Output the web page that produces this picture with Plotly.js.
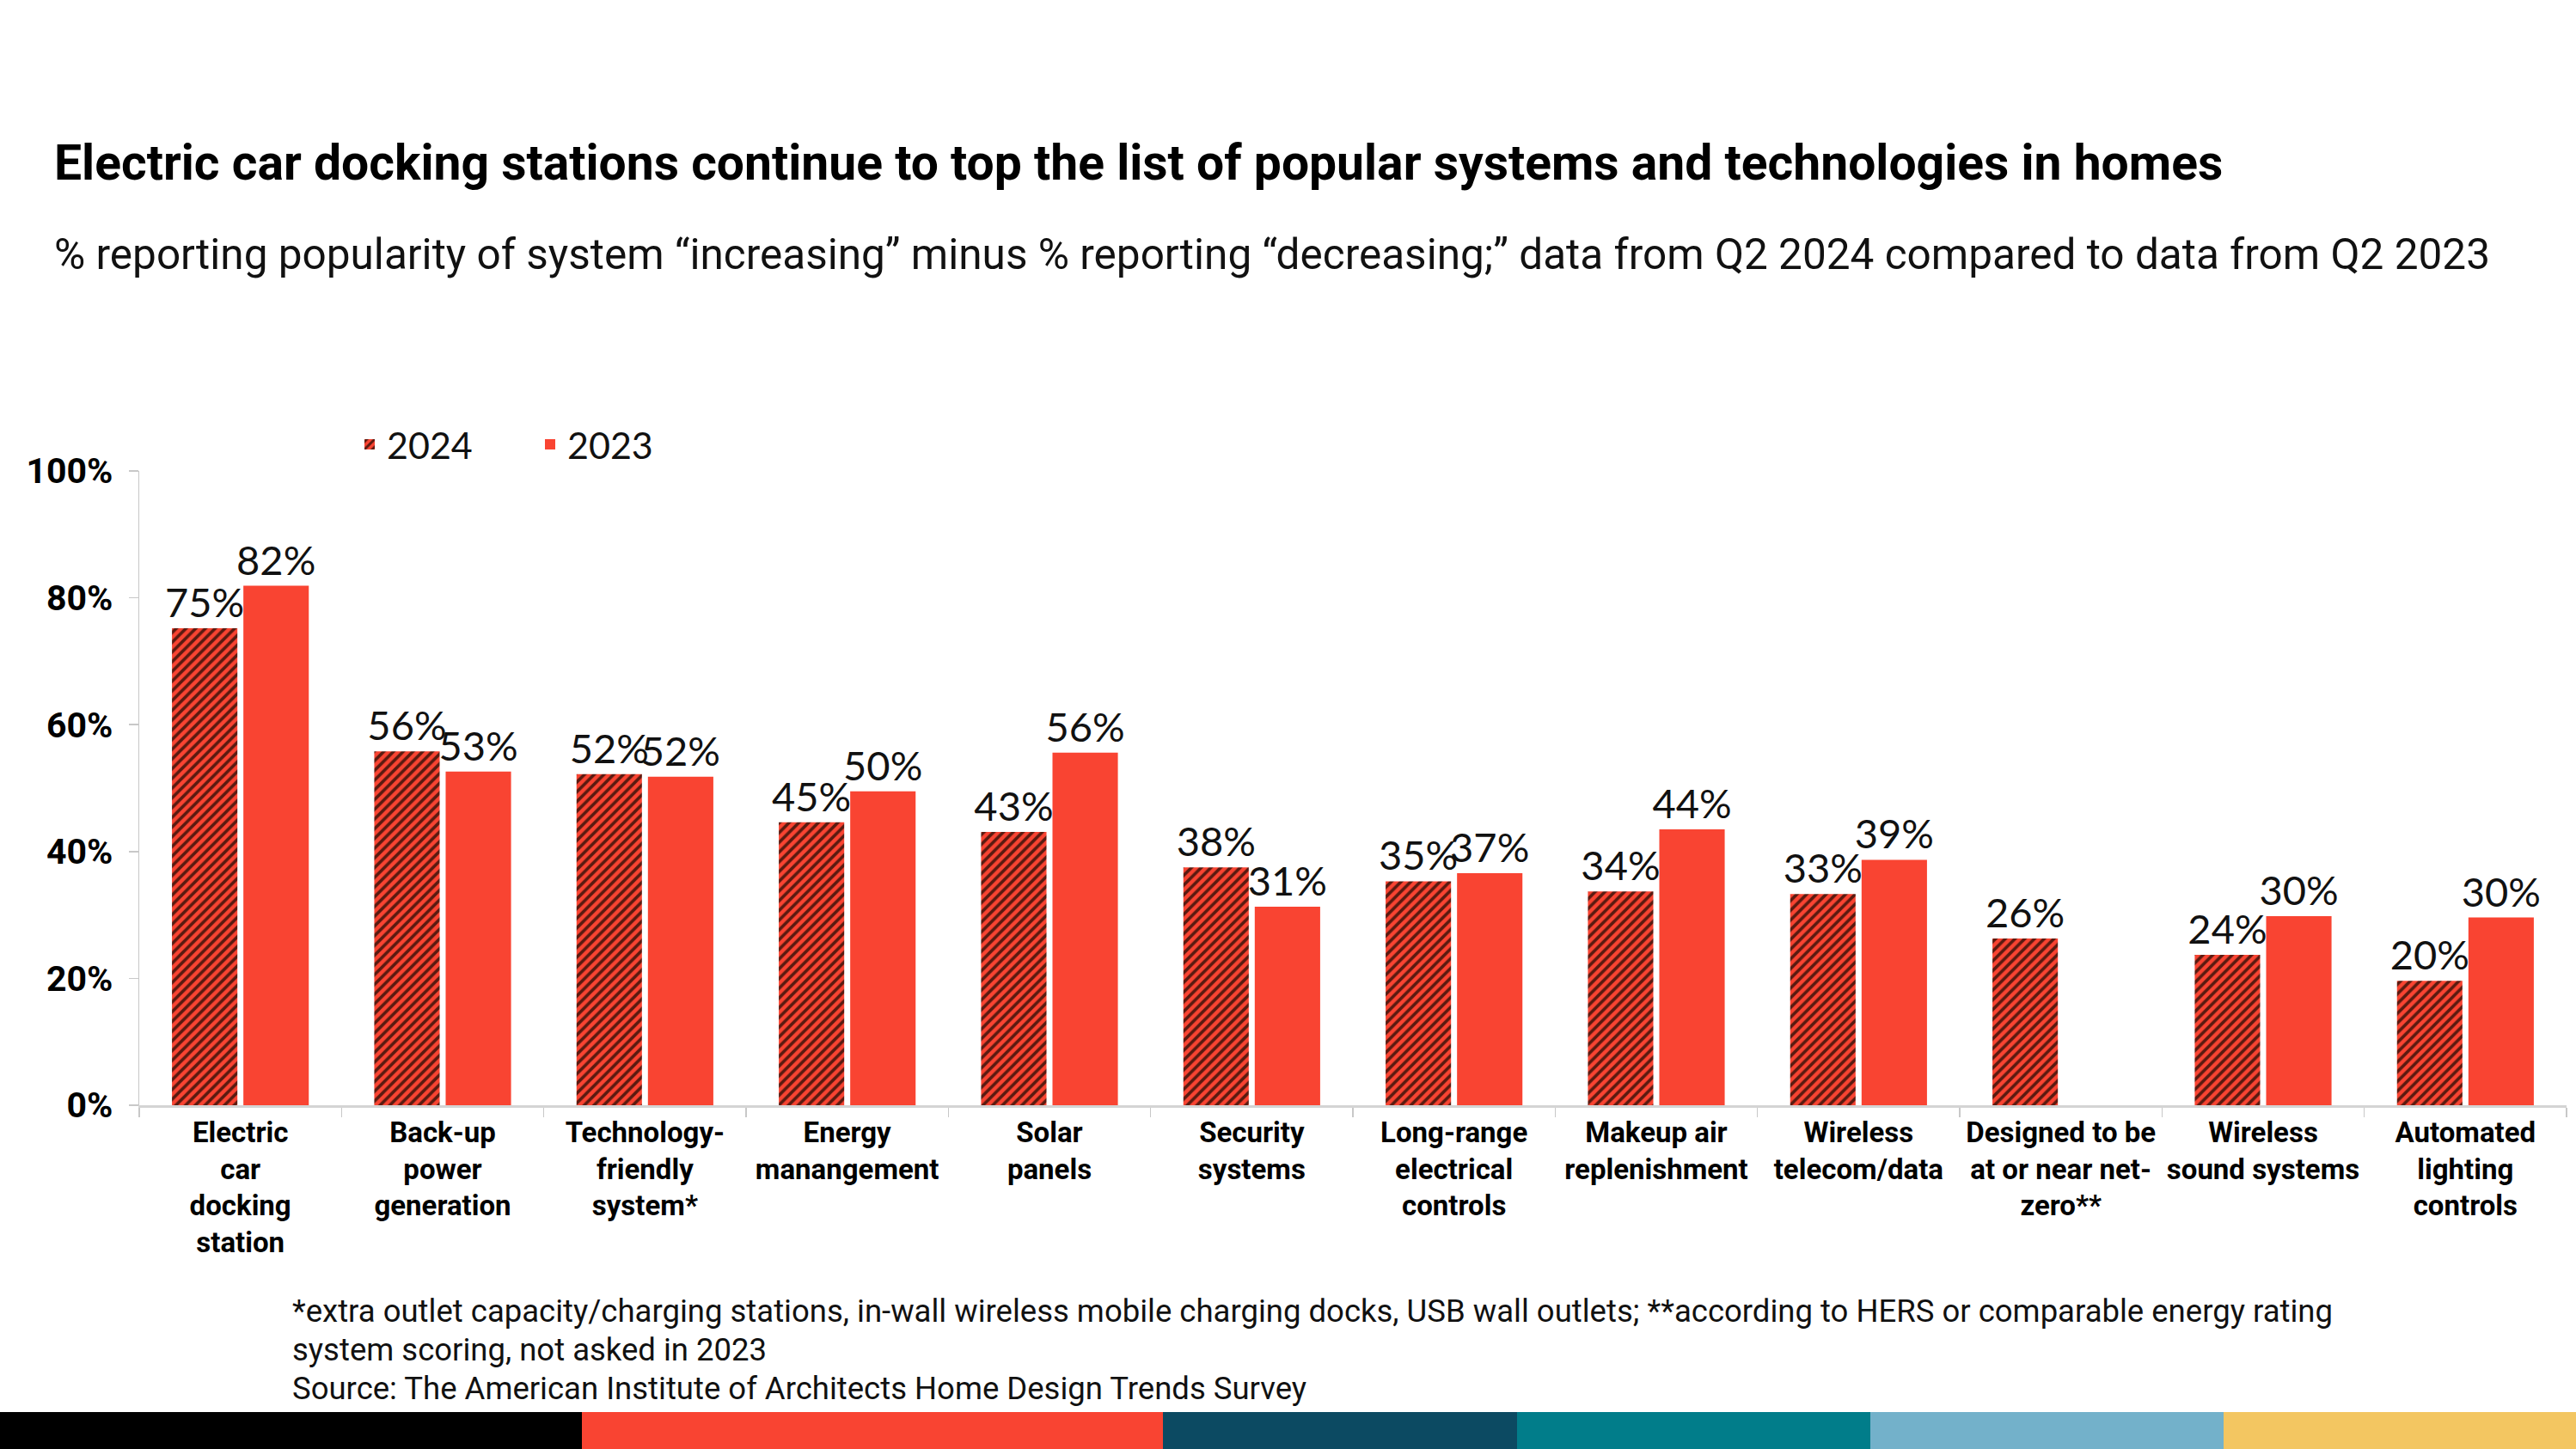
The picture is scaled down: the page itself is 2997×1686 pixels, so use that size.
<!DOCTYPE html>
<html>
<head>
<meta charset="utf-8">
<script src="https://cdn.plot.ly/plotly-3.0.1.min.js"></script>
<style>
  html, body { margin: 0; padding: 0; background: #ffffff; }
  #chart { width: 2997px; height: 1686px; }
</style>
</head>
<body>
<div id="chart"></div>
<script>
// ---------- DATA ----------
const categories = [
  "Electric<br>car<br>docking<br>station",
  "Back-up<br>power<br>generation",
  "Technology-<br>friendly<br>system*",
  "Energy<br>manangement",
  "Solar<br>panels",
  "Security<br>systems",
  "Long-range<br>electrical<br>controls",
  "Makeup air<br>replenishment",
  "Wireless<br>telecom/data",
  "Designed to be<br>at or near net-<br>zero**",
  "Wireless<br>sound systems",
  "Automated<br>lighting<br>controls"
];
const values2024 = [75.2, 55.8, 52.2, 44.6, 43.1, 37.5, 35.3, 33.7, 33.3, 26.3, 23.7, 19.6];
const values2023 = [81.9, 52.6, 51.8, 49.5, 55.6, 31.3, 36.6, 43.5, 38.7, null, 29.8, 29.6];
const seriesNames = ["2024", "2023"];
const yTickVals = [0, 20, 40, 60, 80, 100];
const yTickText = ["0%", "20%", "40%", "60%", "80%", "100%"];

const titleText = "Electric car docking stations continue to top the list of popular systems and technologies in homes";
const subtitleText = "% reporting popularity of system \u201cincreasing\u201d minus % reporting \u201cdecreasing;\u201d data from Q2 2024 compared to data from Q2 2023";
const footnoteLines = [
  "*extra outlet capacity/charging stations, in-wall wireless mobile charging docks, USB wall outlets; **according to HERS or comparable energy rating",
  "system scoring, not asked in 2023",
  "Source: The American Institute of Architects Home Design Trends Survey"
];
const stripColors = ["#000000", "#F94432", "#0C4A62", "#017D8A", "#73B1CA", "#F3C661"];

// ---------- LAYOUT CONSTANTS ----------
const W = 2997, H = 1686;
const PL = 162, PR = 2986, PT = 548, PB = 1286;
const px2x = px => (px - PL) / (PR - PL);
const px2y = py => (PB - py) / (PB - PT);
const RED = "#F94432";
const DARK = "#5A1A10";
const fmt = v => (v == null ? "" : Math.round(v) + "%");
const LABEL_FONT = { family: "Lato, 'Noto Sans', sans-serif", size: 47, color: "#111111" };

const traces = [
  {
    type: "bar",
    name: seriesNames[0],
    x: categories,
    y: values2024,
    text: values2024.map(fmt),
    textposition: "outside",
    constraintext: "none",
    cliponaxis: false,
    textfont: LABEL_FONT,
    marker: {
      color: RED,
      pattern: { shape: "/", fgcolor: DARK, bgcolor: RED, size: 8, solidity: 0.45 }
    },
    hoverinfo: "skip"
  },
  {
    type: "bar",
    name: seriesNames[1],
    x: categories,
    y: values2023,
    text: values2023.map(fmt),
    textposition: "outside",
    constraintext: "none",
    cliponaxis: false,
    textfont: LABEL_FONT,
    marker: { color: RED },
    hoverinfo: "skip"
  }
];

const stripBounds = [0, 677, 1353, 1765, 2176, 2587, 2997];
const shapes = stripColors.map((c, i) => ({
  type: "rect", xref: "paper", yref: "paper",
  x0: px2x(stripBounds[i]), x1: px2x(stripBounds[i + 1]),
  y0: px2y(H), y1: px2y(1643),
  fillcolor: c, line: { width: 0 }, layer: "above"
}));

const annotations = [
  {
    text: "<b>" + titleText + "</b>", xref: "paper", yref: "paper",
    x: px2x(61), y: px2y(190), xanchor: "left", yanchor: "middle", showarrow: false,
    font: { family: "Roboto, 'Liberation Sans', sans-serif", size: 57, color: "#000000" }
  },
  {
    text: subtitleText, xref: "paper", yref: "paper",
    x: px2x(61), y: px2y(296), xanchor: "left", yanchor: "middle", showarrow: false,
    font: { family: "Roboto, 'Liberation Sans', sans-serif", size: 49.5, color: "#111111" }
  }
].concat(footnoteLines.map((t, i) => ({
  text: t, xref: "paper", yref: "paper",
  x: px2x(338), y: px2y(1525 + i * 45), xanchor: "left", yanchor: "middle", showarrow: false,
  font: { family: "Roboto, 'Liberation Sans', sans-serif", size: 36.5, color: "#111111" }
})));

const layout = {
  width: W, height: H,
  margin: { l: PL, r: W - PR, t: PT, b: H - PB, pad: 0 },
  paper_bgcolor: "#ffffff", plot_bgcolor: "#ffffff",
  barmode: "group", bargap: 0.294, bargroupgap: 0.084,
  showlegend: true,
  legend: {
    orientation: "h", x: px2x(410), y: px2y(517), xanchor: "left", yanchor: "middle",
    font: { family: "Lato, 'Noto Sans', sans-serif", size: 43, color: "#111111" },
    entrywidth: 165, traceorder: "normal", bgcolor: "rgba(0,0,0,0)"
  },
  xaxis: {
    type: "category",
    tickson: "boundaries", ticks: "outside", ticklen: 11, tickcolor: "#c8c8c8", tickwidth: 1.5,
    showline: true, linecolor: "#d4d4d4", linewidth: 3,
    showgrid: false, zeroline: false, tickangle: 0,
    tickfont: { family: "Roboto, 'Liberation Sans', sans-serif", size: 33, color: "#000000", weight: "bold" }
  },
  yaxis: {
    range: [0, 100], tickvals: yTickVals, ticktext: yTickText,
    ticks: "outside", ticklen: 11, tickcolor: "#c8c8c8", tickwidth: 1.5,
    showline: true, linecolor: "#c8c8c8", linewidth: 1.5,
    showgrid: false, zeroline: false, ticklabelstandoff: 10,
    tickfont: { family: "Roboto, 'Liberation Sans', sans-serif", size: 41, color: "#000000", weight: "bold" }
  },
  shapes: shapes,
  annotations: annotations,
  font: { family: "Roboto, sans-serif" }
};

Plotly.newPlot("chart", traces, layout, { staticPlot: true, displayModeBar: false });
</script>
</body>
</html>
